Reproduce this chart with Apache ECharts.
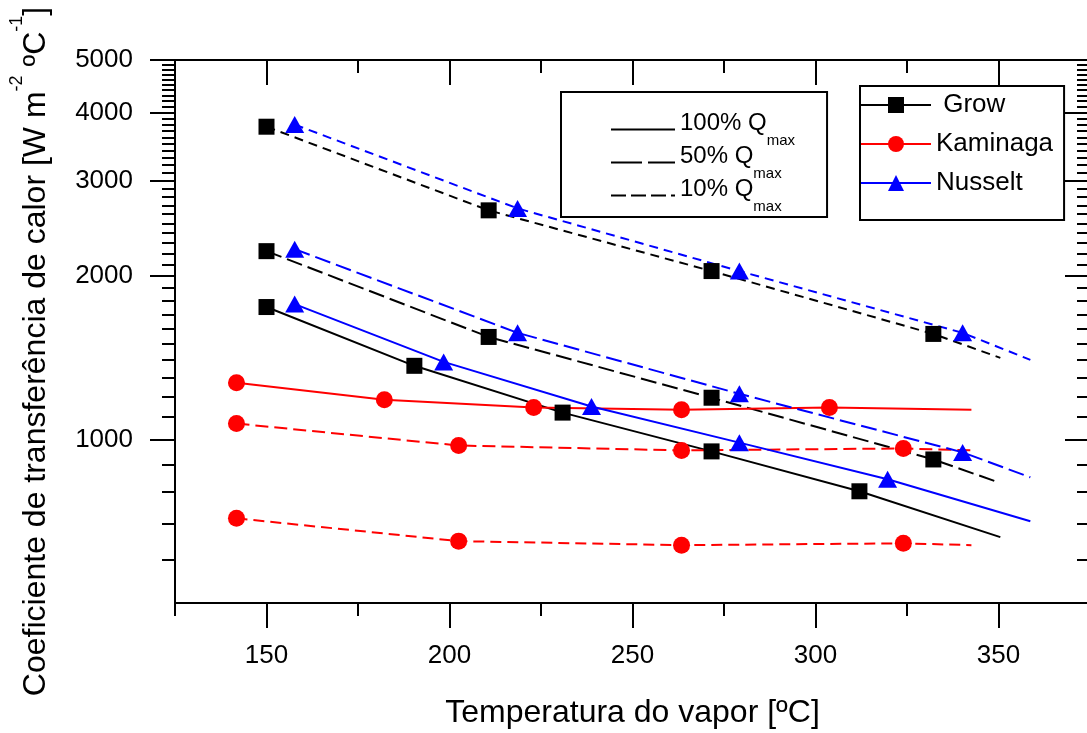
<!DOCTYPE html>
<html>
<head>
<meta charset="utf-8">
<title>Coeficiente de transferência de calor</title>
<script src="https://cdn.jsdelivr.net/npm/echarts@6.0.0/dist/echarts.min.js"></script>
<style>
  html, body { margin: 0; padding: 0; background: #fff; }
  #chart { width: 1087px; height: 733px; }
</style>
</head>
<body>
<div id="chart"></div>
<script>
var FONT = "'Liberation Sans', Arial, Helvetica, sans-serif";

// ticks
var xMajorTicks = [150, 200, 250, 300, 350];
var xMinorTicks = [125, 175, 225, 275, 325, 375];
var yMajorTicks = [1000, 2000, 3000, 4000, 5000];
var yMinorTicks = [600, 700, 800, 900,
  1100, 1200, 1300, 1400, 1500, 1600, 1700, 1800, 1900,
  2100, 2200, 2300, 2400, 2500, 2600, 2700, 2800, 2900,
  3100, 3200, 3300, 3400, 3500, 3600, 3700, 3800, 3900,
  4100, 4200, 4300, 4400, 4500, 4600, 4700, 4800, 4900];

// Grow (quadrados pretos) - ultimo ponto = fim da curva, sem marcador
var growT100 = [150, 190.4, 230.9, 271.6, 312.0, 350.5];
var growH100 = [1754, 1367, 1121, 951, 803, 661];
var growT50 = [150, 210.7, 271.6, 332.2, 350];
var growH50 = [2223, 1545, 1194, 919, 834];
var growT10 = [150, 210.7, 271.6, 332.2, 350.5];
var growH10 = [3768, 2643, 2043, 1565, 1414];

// Kaminaga (circulos vermelhos)
var kamT100 = [141.8, 182.2, 223.0, 263.4, 303.8, 342.6];
var kamH100 = [1272, 1184, 1145, 1135, 1145, 1135];
var kamT50 = [141.8, 202.5, 263.4, 324.0, 342.6];
var kamH50 = [1070, 975, 955, 963, 955];
var kamT10 = [141.8, 202.5, 263.4, 324.0, 342.6];
var kamH10 = [716, 650, 639, 644, 639];

// Nusselt (triangulos azuis)
var nusT100 = [157.7, 198.4, 238.8, 279.2, 319.7, 358.7];
var nusH100 = [1776, 1390, 1150, 987, 845, 707];
var nusT50 = [157.7, 218.6, 279.2, 340.2, 358.7];
var nusH50 = [2242, 1572, 1214, 947, 852];
var nusT10 = [157.7, 218.6, 279.2, 340.2, 358.7];
var nusH10 = [3802, 2665, 2043, 1572, 1402];

var DASH50 = [16, 6];
var DASH10 = [9, 6];

function pairs(t, h) {
  return t.map(function (v, i) { return [v, h[i]]; });
}

function curve(t, h, color, dash) {
  return {
    type: 'line', data: pairs(t, h), symbol: 'none', silent: true, z: 2,
    lineStyle: { color: color, width: 2, type: dash }
  };
}

function marks(t, h, color, symbol, size) {
  return {
    type: 'scatter', data: pairs(t.slice(0, -1), h.slice(0, -1)), silent: true, z: 5,
    symbol: symbol, symbolSize: size, itemStyle: { color: color, opacity: 1 }
  };
}

function legendDummy(name, color, symbol, dash) {
  return {
    name: name, type: 'line', data: [], symbol: symbol,
    lineStyle: { color: color, width: 2, type: dash }, itemStyle: { color: color }
  };
}

var axisLineStyle = { color: '#000', width: 2 };

function xAx(pos, ticks, len, inside, main) {
  return {
    type: 'value', position: pos, min: 125, max: 375,
    axisLine: { show: main, onZero: false, lineStyle: axisLineStyle },
    axisTick: { show: true, inside: inside, length: len, customValues: ticks, lineStyle: axisLineStyle },
    axisLabel: { show: false },
    splitLine: { show: false }
  };
}

function yAx(pos, ticks, len, inside, main) {
  return {
    type: 'log', logBase: 10, position: pos, min: 500, max: 5000,
    axisLine: { show: main, onZero: false, lineStyle: axisLineStyle },
    axisTick: { show: true, inside: inside, length: len, customValues: ticks, lineStyle: axisLineStyle },
    axisLabel: { show: false },
    splitLine: { show: false }
  };
}

var xMain = xAx('bottom', xMajorTicks, 25, false, true);
xMain.axisLabel = { show: true, customValues: xMajorTicks, margin: 40, color: '#000', fontSize: 26, fontFamily: FONT };
xMain.name = 'Temperatura do vapor [ºC]';
xMain.nameLocation = 'middle';
xMain.nameGap = 94;
xMain.nameTextStyle = { color: '#000', fontSize: 32, fontFamily: FONT };

var yMain = yAx('left', yMajorTicks, 25, false, true);
yMain.axisLabel = {
  show: true, customValues: yMajorTicks, margin: 42, color: '#000', fontSize: 26, fontFamily: FONT,
  formatter: function (v) { return String(Math.round(v)); }
};
yMain.name = '{a|Coeficiente de transferência de calor [W m}{s|-2}{a| ºC}{s|-1}{a|]}';
yMain.nameLocation = 'middle';
yMain.nameGap = 123;
yMain.nameTextStyle = {
  color: '#000', fontSize: 32, fontFamily: FONT, padding: [0, 40, 0, 0],
  rich: {
    a: { color: '#000', fontSize: 32, fontFamily: FONT, verticalAlign: 'bottom' },
    s: { color: '#000', fontSize: 18, fontFamily: FONT, verticalAlign: 'top', padding: [0, 0, 26, 0] }
  }
};

var option = {
  animation: false,
  backgroundColor: '#fff',
  grid: { left: 175, right: -3, top: 60, bottom: 130, containLabel: false, outerBoundsMode: 'none' },
  xAxis: [
    xMain,
    xAx('bottom', xMinorTicks, 13, false, false),
    xAx('top', xMajorTicks, 25, true, true),
    xAx('top', xMinorTicks, 13, true, false)
  ],
  yAxis: [
    yMain,
    yAx('left', yMinorTicks, 13, false, false),
    yAx('right', yMajorTicks, 25, true, true),
    yAx('right', yMinorTicks, 13, true, false)
  ],
  legend: [
    {
      data: ['100% Qmax', '50% Qmax', '10% Qmax'],
      orient: 'vertical', left: 561, top: 92,
      padding: [19, 32, 3, 49], itemGap: -4,
      itemWidth: 64, itemHeight: 14,
      borderColor: '#000', borderWidth: 2, selectedMode: false,
      itemStyle: { opacity: 0 },
      formatter: function (name) { return '{a|' + name.replace(' Qmax', ' Q') + '}{s|max}'; },
      textStyle: {
        color: '#000', fontSize: 24, fontFamily: FONT,
        rich: {
          a: { color: '#000', fontSize: 24, fontFamily: FONT, verticalAlign: 'top' },
          s: { color: '#000', fontSize: 15, fontFamily: FONT, verticalAlign: 'top', padding: [22, 0, 0, 0] }
        }
      }
    },
    {
      data: ['Grow', 'Kaminaga', 'Nusselt'],
      orient: 'vertical', left: 860, top: 86,
      padding: [6, 11, 24, 0], itemGap: 13,
      itemWidth: 70, itemHeight: 20,
      borderColor: '#000', borderWidth: 2, selectedMode: false,
      formatter: function (name) { return name === 'Grow' ? ' ' + name : name; },
      textStyle: { color: '#000', fontSize: 26, fontFamily: FONT }
    }
  ],
  series: [
    legendDummy('100% Qmax', '#000', 'none', 'solid'),
    legendDummy('50% Qmax', '#000', 'none', [31, 6]),
    legendDummy('10% Qmax', '#000', 'none', [15, 5]),
    legendDummy('Grow', '#000', 'rect', 'solid'),
    legendDummy('Kaminaga', '#ff0000', 'circle', 'solid'),
    legendDummy('Nusselt', '#0000ff', 'triangle', 'solid'),

    curve(growT100, growH100, '#000', 'solid'),
    curve(growT50, growH50, '#000', DASH50),
    curve(growT10, growH10, '#000', DASH10),
    curve(kamT100, kamH100, '#ff0000', 'solid'),
    curve(kamT50, kamH50, '#ff0000', [13, 6]),
    curve(kamT10, kamH10, '#ff0000', [11, 6]),
    curve(nusT100, nusH100, '#0000ff', 'solid'),
    curve(nusT50, nusH50, '#0000ff', DASH50),
    curve(nusT10, nusH10, '#0000ff', DASH10),

    marks(growT100, growH100, '#000', 'rect', 16),
    marks(growT50, growH50, '#000', 'rect', 16),
    marks(growT10, growH10, '#000', 'rect', 16),
    marks(kamT100, kamH100, '#ff0000', 'circle', 17),
    marks(kamT50, kamH50, '#ff0000', 'circle', 17),
    marks(kamT10, kamH10, '#ff0000', 'circle', 17),
    marks(nusT100, nusH100, '#0000ff', 'triangle', [19, 17]),
    marks(nusT50, nusH50, '#0000ff', 'triangle', [19, 17]),
    marks(nusT10, nusH10, '#0000ff', 'triangle', [19, 17])
  ]
};

var myChart = echarts.init(document.getElementById('chart'));
myChart.setOption(option);
</script>
</body>
</html>
